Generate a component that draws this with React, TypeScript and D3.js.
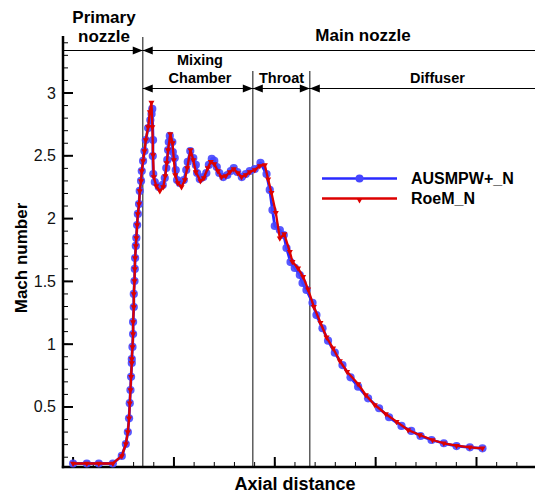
import React from "react";
import * as d3 from "d3";

const W = 535;
const H = 495;

// Axis domains (axial distance in arbitrary units, Mach number)
const xDomain: [number, number] = [-0.1, 4.58];
const yDomain: [number, number] = [0.022, 3.454];
const yMajorTicks = [0.5, 1, 1.5, 2, 2.5, 3];
const yTickLabels = ["0.5", "1", "1.5", "2", "2.5", "3"];
const xMajorTicks = [0, 1, 2, 3, 4];

// Region boundaries along the axis
const regionBounds = [0.691, 1.782, 2.347];

const seriesNames = ["AUSMPW+_N", "RoeM_N"];

// AUSMPW+_N  [x, Mach]
const ausmpw: [number, number][] = [
  [0.0, 0.05], [0.136, 0.05], [0.255, 0.05], [0.394, 0.05], [0.483, 0.11],
  [0.523, 0.205], [0.543, 0.3], [0.555, 0.41], [0.562, 0.53], [0.569, 0.635],
  [0.575, 0.74], [0.582, 0.85], [0.582, 0.882], [0.589, 0.978], [0.595, 1.081],
  [0.595, 1.177], [0.602, 1.296], [0.602, 1.4], [0.609, 1.503], [0.612, 1.599],
  [0.615, 1.686], [0.622, 1.782], [0.627, 1.846], [0.635, 1.949], [0.642, 2.037],
  [0.654, 2.116], [0.661, 2.22], [0.674, 2.3], [0.681, 2.379], [0.694, 2.459],
  [0.708, 2.538], [0.721, 2.626], [0.744, 2.721], [0.766, 2.785], [0.778, 2.833],
  [0.785, 2.873], [0.793, 2.626], [0.79, 2.498], [0.795, 2.355], [0.81, 2.291],
  [0.85, 2.252], [0.889, 2.268], [0.909, 2.323], [0.924, 2.403], [0.934, 2.467],
  [0.942, 2.546], [0.949, 2.61], [0.959, 2.658], [0.984, 2.61], [0.989, 2.53],
  [1.008, 2.482], [1.018, 2.387], [1.031, 2.307], [1.058, 2.283], [1.098, 2.307],
  [1.122, 2.387], [1.137, 2.451], [1.162, 2.538], [1.192, 2.482], [1.217, 2.427],
  [1.23, 2.363], [1.256, 2.315], [1.291, 2.331], [1.321, 2.363], [1.346, 2.427],
  [1.375, 2.475], [1.4, 2.459], [1.425, 2.411], [1.45, 2.363], [1.489, 2.331],
  [1.529, 2.347], [1.564, 2.379], [1.593, 2.403], [1.628, 2.371], [1.673, 2.331],
  [1.712, 2.355], [1.752, 2.379], [1.801, 2.395], [1.858, 2.443], [1.918, 2.355],
  [1.95, 2.228], [1.977, 2.068], [2.0, 1.941], [2.05, 1.909], [2.089, 1.869],
  [2.116, 1.766], [2.156, 1.654], [2.198, 1.607], [2.248, 1.551], [2.275, 1.487],
  [2.314, 1.432], [2.374, 1.33], [2.413, 1.232], [2.473, 1.127], [2.528, 1.028],
  [2.595, 0.932], [2.671, 0.834], [2.751, 0.736], [2.826, 0.662], [2.925, 0.569],
  [3.034, 0.49], [3.133, 0.418], [3.256, 0.349], [3.353, 0.309], [3.445, 0.269],
  [3.554, 0.237], [3.676, 0.211], [3.802, 0.189], [3.934, 0.179], [4.059, 0.171],
];

// RoeM_N  [x, Mach]
const roem: [number, number][] = [
  [0.0, 0.05], [0.136, 0.05], [0.255, 0.05], [0.394, 0.05], [0.483, 0.11],
  [0.523, 0.205], [0.543, 0.3], [0.555, 0.41], [0.562, 0.53], [0.569, 0.635],
  [0.575, 0.74], [0.582, 0.85], [0.582, 0.882], [0.589, 0.978], [0.595, 1.081],
  [0.595, 1.177], [0.602, 1.296], [0.602, 1.4], [0.609, 1.503], [0.612, 1.599],
  [0.615, 1.686], [0.622, 1.782], [0.627, 1.846], [0.635, 1.949], [0.642, 2.037],
  [0.654, 2.116], [0.661, 2.22], [0.674, 2.3], [0.681, 2.379], [0.694, 2.459],
  [0.708, 2.538], [0.721, 2.626], [0.744, 2.729], [0.761, 2.849], [0.777, 2.924],
  [0.786, 2.729], [0.793, 2.506], [0.8, 2.331], [0.825, 2.26], [0.86, 2.22],
  [0.894, 2.252], [0.914, 2.339], [0.929, 2.443], [0.942, 2.546], [0.964, 2.674],
  [0.986, 2.602], [0.999, 2.467], [1.013, 2.347], [1.038, 2.283], [1.075, 2.252],
  [1.108, 2.307], [1.132, 2.403], [1.164, 2.546], [1.192, 2.467], [1.217, 2.371],
  [1.263, 2.299], [1.296, 2.323], [1.336, 2.403], [1.365, 2.453], [1.4, 2.435],
  [1.435, 2.379], [1.471, 2.331], [1.514, 2.339], [1.554, 2.371], [1.593, 2.395],
  [1.633, 2.363], [1.67, 2.331], [1.712, 2.347], [1.752, 2.371], [1.801, 2.387],
  [1.851, 2.419], [1.901, 2.427], [1.934, 2.313], [1.967, 2.206], [2.01, 2.047],
  [2.05, 1.843], [2.094, 1.877], [2.149, 1.736], [2.175, 1.657], [2.231, 1.604],
  [2.281, 1.537], [2.33, 1.437], [2.387, 1.299], [2.453, 1.171], [2.513, 1.055],
  [2.578, 0.967], [2.645, 0.866], [2.717, 0.781], [2.826, 0.683], [2.902, 0.596],
  [2.992, 0.516], [3.101, 0.444], [3.207, 0.383], [3.322, 0.317], [3.438, 0.277],
  [3.564, 0.237], [3.676, 0.211], [3.802, 0.192], [3.934, 0.179], [4.059, 0.171],
];

const BLUE = "#2a2aff";
const BLUE_MK = "#4646ff";
const RED = "#dd0000";
const FONT = "'Liberation Sans', Arial, Helvetica, sans-serif";

export default function App() {
  const left = 63;
  const right = 535;
  const top = 36;
  const bottom = 467;

  const x = d3.scaleLinear().domain(xDomain).range([left, right]);
  const y = d3.scaleLinear().domain(yDomain).range([bottom, top]);

  const line = d3
    .line<[number, number]>()
    .x((d) => x(d[0]))
    .y((d) => y(d[1]));

  const yMinor = d3.range(1, 35).map((i) => i / 10).filter((v) => v >= yDomain[0] && v <= yDomain[1]);
  const xMinor = d3.range(0, 23).map((i) => i / 5).filter((v) => v <= xDomain[1]);

  const tri = d3.symbol().type(d3.symbolTriangle).size(16)();

  const row1 = 50.5;
  const row2 = 88.5;
  const ah = 10; // arrow head length
  const aw = 4; // arrow head half width

  const arrowRight = (xp: number, yp: number) =>
    `M${xp},${yp} L${xp - ah},${yp - aw} L${xp - ah},${yp + aw} Z`;
  const arrowLeft = (xp: number, yp: number) =>
    `M${xp},${yp} L${xp + ah},${yp - aw} L${xp + ah},${yp + aw} Z`;

  const b0 = x(regionBounds[0]);
  const b1 = x(regionBounds[1]);
  const b2 = x(regionBounds[2]);

  return (
    <svg
      width={W}
      height={H}
      style={{ position: "absolute", left: 0, top: 0, background: "#fff" }}
      fontFamily={FONT}
    >
      <rect x={0} y={0} width={W} height={H} fill="#fff" />

      {/* region vertical lines */}
      <line x1={b0} x2={b0} y1={37} y2={bottom} stroke="#444" strokeWidth={1.3} />
      <line x1={b1} x2={b1} y1={71} y2={bottom} stroke="#444" strokeWidth={1.3} />
      <line x1={b2} x2={b2} y1={71} y2={bottom} stroke="#444" strokeWidth={1.3} />

      {/* row 1 arrows */}
      <line x1={left} x2={b0} y1={row1} y2={row1} stroke="#000" strokeWidth={1} />
      <path d={arrowRight(b0, row1)} fill="#000" />
      <line x1={b0} x2={right} y1={row1} y2={row1} stroke="#000" strokeWidth={1} />
      <path d={arrowLeft(b0, row1)} fill="#000" />

      {/* row 2 arrows */}
      <line x1={b0} x2={right} y1={row2} y2={row2} stroke="#000" strokeWidth={1} />
      <path d={arrowLeft(b0, row2)} fill="#000" />
      <path d={arrowRight(b1, row2)} fill="#000" />
      <path d={arrowLeft(b1, row2)} fill="#000" />
      <path d={arrowRight(b2, row2)} fill="#000" />
      <path d={arrowLeft(b2, row2)} fill="#000" />

      {/* annotation text */}
      <g fontWeight="bold" fill="#000" textAnchor="middle">
        <text x={104} y={23} fontSize={17}>Primary</text>
        <text x={104} y={42} fontSize={17}>nozzle</text>
        <text x={363} y={41} fontSize={17}>Main nozzle</text>
        <text x={200} y={65} fontSize={14.5}>Mixing</text>
        <text x={200} y={82.5} fontSize={14.5}>Chamber</text>
        <text x={281.5} y={82.5} fontSize={14.5}>Throat</text>
        <text x={437.5} y={82.5} fontSize={14.5}>Diffuser</text>
      </g>

      {/* axes */}
      <line x1={left} x2={left} y1={top} y2={bottom + 1.2} stroke="#000" strokeWidth={2.5} />
      <line x1={left - 1.2} x2={right} y1={bottom} y2={bottom} stroke="#000" strokeWidth={2.5} />

      {yMinor.map((v) => (
        <line key={"ym" + v} x1={left} x2={left + 5} y1={y(v)} y2={y(v)} stroke="#000" strokeWidth={1} />
      ))}
      {yMajorTicks.map((v, i) => (
        <g key={"yM" + v}>
          <line x1={left} x2={left + 10} y1={y(v)} y2={y(v)} stroke="#000" strokeWidth={2} />
          <text x={56} y={y(v) + 5.5} fontSize={16} textAnchor="end" fill="#111">
            {yTickLabels[i]}
          </text>
        </g>
      ))}
      {xMinor.map((v) => (
        <line key={"xm" + v} x1={x(v)} x2={x(v)} y1={bottom} y2={bottom - 5} stroke="#000" strokeWidth={1} />
      ))}
      {xMajorTicks.map((v) => (
        <line key={"xM" + v} x1={x(v)} x2={x(v)} y1={bottom} y2={bottom - 10} stroke="#000" strokeWidth={2} />
      ))}

      <text x={295} y={490} fontSize={18} fontWeight="bold" textAnchor="middle">
        Axial distance
      </text>
      <text
        transform={`translate(27,258) rotate(-90)`}
        fontSize={17}
        fontWeight="bold"
        textAnchor="middle"
      >
        Mach number
      </text>

      {/* AUSMPW+_N series */}
      <path d={line(ausmpw) || ""} fill="none" stroke={BLUE} strokeWidth={2.8} strokeLinejoin="round" />
      {ausmpw.map((d, i) => (
        <circle key={"b" + i} cx={x(d[0])} cy={y(d[1])} r={4.1} fill={BLUE_MK} fillOpacity={0.9} />
      ))}

      {/* RoeM_N series */}
      <path d={line(roem) || ""} fill="none" stroke={RED} strokeWidth={2.3} strokeLinejoin="round" />
      {roem.map((d, i) => (
        <path
          key={"r" + i}
          d={tri || ""}
          transform={`translate(${x(d[0])},${y(d[1])}) rotate(180)`}
          fill={RED}
        />
      ))}

      {/* legend */}
      <line x1={322} x2={397} y1={178.5} y2={178.5} stroke={BLUE} strokeWidth={2.5} />
      <circle cx={359.5} cy={178.5} r={4} fill={BLUE_MK} />
      <line x1={322} x2={397} y1={198.5} y2={198.5} stroke={RED} strokeWidth={2.5} />
      <path d={d3.symbol().type(d3.symbolTriangle).size(16)() || ""} transform="translate(359.5,200) rotate(180)" fill={RED} />
      <text x={411} y={184} fontSize={16} fontWeight="bold">{seriesNames[0]}</text>
      <text x={411} y={204} fontSize={16} fontWeight="bold">{seriesNames[1]}</text>
    </svg>
  );
}
